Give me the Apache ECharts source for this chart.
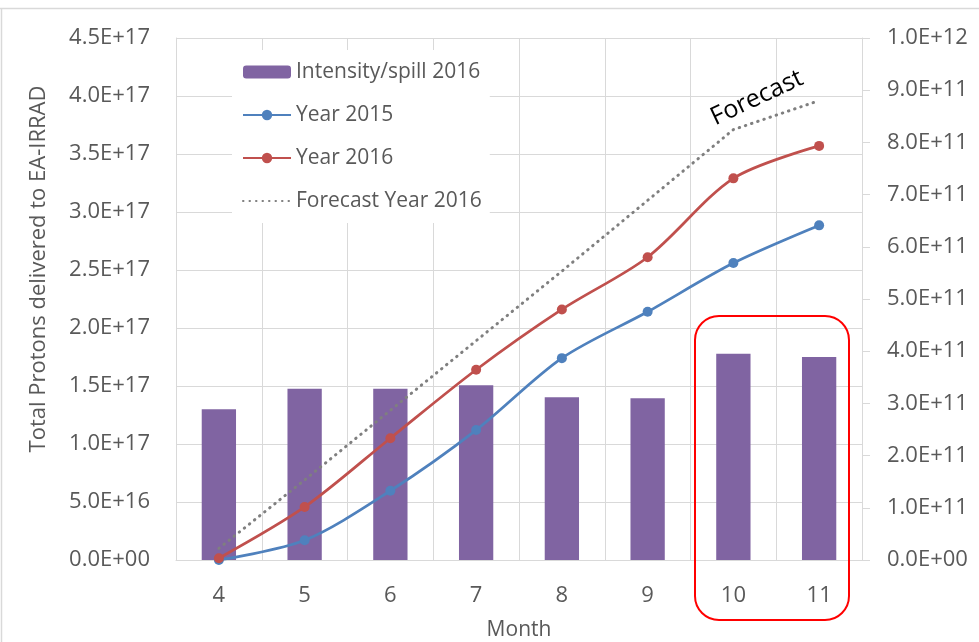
<!DOCTYPE html>
<html>
<head>
<meta charset="utf-8">
<script src="https://cdn.jsdelivr.net/npm/echarts@6/dist/echarts.min.js"></script>
<style>
  html, body { margin: 0; padding: 0; background: #fff; }
  #chart { width: 979px; height: 642px; }
</style>
</head>
<body>
<div id="chart"></div>
<script>
// Months of the run
const months = ['4', '5', '6', '7', '8', '9', '10', '11'];

// Mean intensity per spill in 2016 (right axis)
const intensity2016 = [2.89e11, 3.28e11, 3.28e11, 3.35e11, 3.12e11, 3.10e11, 3.95e11, 3.89e11];

// Cumulative protons delivered (left axis)
const year2015 = [0.0, 1.7e16, 5.97e16, 1.12e17, 1.74e17, 2.14e17, 2.56e17, 2.885e17];
const year2016 = [1.5e15, 4.57e16, 1.05e17, 1.64e17, 2.16e17, 2.61e17, 3.29e17, 3.57e17];
const forecast2016 = [1.0e16, 6.9e16, 1.29e17, 1.89e17, 2.49e17, 3.10e17, 3.71e17, 3.96e17];

// Scientific labels such as 4.5E+17 or 0.0E+00
function sci(v) {
  const s = Number(v).toExponential(1).toUpperCase();
  const m = s.match(/^(-?[\d.]+)E([+-])(\d+)$/);
  if (!m) return s;
  return m[1] + 'E' + m[2] + (m[3].length < 2 ? '0' + m[3] : m[3]);
}

const FONT = '"Open Sans", "Noto Sans", sans-serif';
const TXT = '#595959';
const GRID = '#D9D9D9';

const chart = echarts.init(document.getElementById('chart'), null, { renderer: 'canvas' });

chart.setOption({
  animation: false,
  backgroundColor: '#fff',
  textStyle: { fontFamily: FONT },
  grid: { left: 176, right: 117, top: 38, bottom: 82, containLabel: false, outerBoundsMode: 'none' },
  legend: {
    orient: 'vertical',
    left: 232,
    top: 50,
    padding: [10, 8, 10, 10],
    backgroundColor: '#fff',
    itemWidth: 48,
    itemHeight: 13,
    itemGap: 19,
    textStyle: { fontFamily: FONT, fontSize: 21, color: TXT, lineHeight: 24 },
    data: [
      'Intensity/spill 2016',
      'Year 2015',
      'Year 2016',
      { name: 'Forecast Year 2016', itemStyle: { opacity: 0 } }
    ]
  },
  xAxis: {
    type: 'category',
    data: months,
    boundaryGap: true,
    name: 'Month',
    nameLocation: 'middle',
    nameGap: 60,
    nameTextStyle: { fontFamily: FONT, fontSize: 21, color: TXT },
    axisLine: { show: true, lineStyle: { color: GRID, width: 1 } },
    axisTick: { show: false },
    axisLabel: { fontFamily: FONT, fontSize: 22, color: TXT, margin: 25 },
    splitLine: { show: true, interval: 0, lineStyle: { color: GRID, width: 1 } }
  },
  yAxis: [
    {
      type: 'value',
      min: 0,
      max: 4.5e17,
      interval: 0.5e17,
      position: 'left',
      axisLine: { show: true, lineStyle: { color: GRID, width: 1 } },
      axisTick: { show: false },
      axisLabel: { fontFamily: FONT, fontSize: 22, color: TXT, margin: 26, formatter: sci },
      splitLine: { show: true, lineStyle: { color: GRID, width: 1 } }
    },
    {
      type: 'value',
      min: 0,
      max: 1e12,
      interval: 1e11,
      position: 'right',
      axisLine: { show: true, lineStyle: { color: GRID, width: 1 } },
      axisTick: { show: true, inside: false, length: 8, lineStyle: { color: GRID, width: 1 } },
      axisLabel: { fontFamily: FONT, fontSize: 22, color: TXT, margin: 25, formatter: sci },
      splitLine: { show: false }
    }
  ],
  series: [
    {
      name: 'Intensity/spill 2016',
      type: 'bar',
      yAxisIndex: 1,
      data: intensity2016,
      barWidth: '40%',
      itemStyle: { color: '#8064A2' },
      z: 1
    },
    {
      name: 'Year 2015',
      type: 'line',
      yAxisIndex: 0,
      data: year2015,
      smooth: 0.3,
      symbol: 'circle',
      symbolSize: 10,
      lineStyle: { color: '#4F81BD', width: 2.75 },
      itemStyle: { color: '#4F81BD' },
      z: 3
    },
    {
      name: 'Year 2016',
      type: 'line',
      yAxisIndex: 0,
      data: year2016,
      smooth: 0.3,
      symbol: 'circle',
      symbolSize: 10,
      lineStyle: { color: '#C0504D', width: 2.75 },
      itemStyle: { color: '#C0504D' },
      z: 3
    },
    {
      name: 'Forecast Year 2016',
      type: 'line',
      yAxisIndex: 0,
      data: forecast2016,
      smooth: false,
      symbol: 'none',
      lineStyle: { color: '#7F7F7F', width: 3, type: [0.5, 6], cap: 'round' },
      itemStyle: { color: '#7F7F7F' },
      z: 2
    }
  ],
  graphic: [
    // Frame of the chart area
    { type: 'line', shape: { x1: 0, y1: 8.5, x2: 979, y2: 8.5 }, style: { stroke: GRID, lineWidth: 1.5 }, silent: true },
    { type: 'line', shape: { x1: 1.5, y1: 8, x2: 1.5, y2: 642 }, style: { stroke: GRID, lineWidth: 1.5 }, silent: true },
    // Y axis title
    {
      type: 'text',
      x: 39,
      y: 269,
      rotation: Math.PI / 2,
      style: {
        text: 'Total Protons delivered to EA-IRRAD',
        font: '22px ' + FONT,
        fill: TXT,
        align: 'center',
        verticalAlign: 'middle'
      },
      silent: true
    },
    // Forecast note
    {
      type: 'text',
      x: 757,
      y: 98,
      rotation: 0.44,
      style: {
        text: 'Forecast',
        font: '25px ' + FONT,
        fill: '#000',
        align: 'center',
        verticalAlign: 'middle'
      },
      z: 10,
      silent: true
    },
    // Highlight around the last two months
    {
      type: 'rect',
      shape: { x: 695, y: 316, width: 154, height: 304, r: 24 },
      style: { fill: 'none', stroke: '#FF0000', lineWidth: 2 },
      z: 10,
      silent: true
    }
  ]
});
</script>
</body>
</html>
